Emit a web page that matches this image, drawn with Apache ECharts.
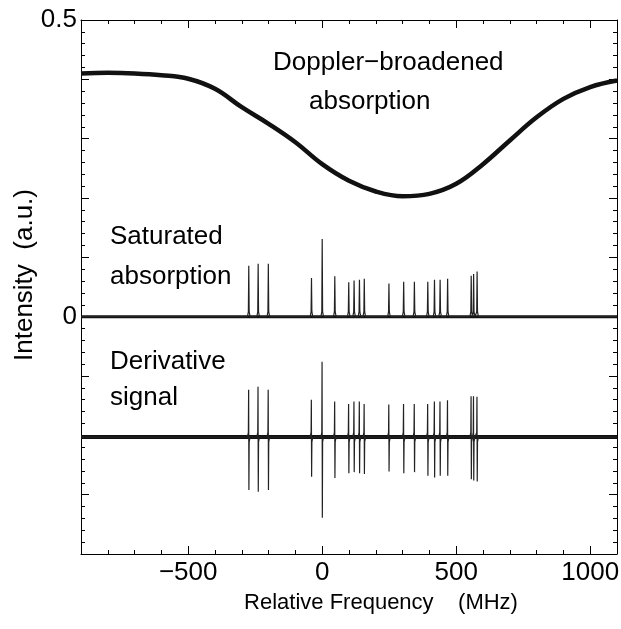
<!DOCTYPE html>
<html>
<head>
<meta charset="utf-8">
<script src="https://cdn.jsdelivr.net/npm/echarts@6/dist/echarts.min.js"></script>
<style>
html, body { margin: 0; padding: 0; background: #fff; }
#container { width: 621px; height: 629px; }
</style>
</head>
<body>
<div id="container"></div>
<script>
// Doppler-broadened absorption, read every 100 MHz
var dopplerFreq = [-900, -800, -700, -600, -500, -400, -300, -200, -100, 0, 100, 200, 300, 400, 500, 600, 700, 800, 900, 1000, 1100];
var dopplerVal = [0.410, 0.411, 0.410, 0.407, 0.401, 0.384, 0.353, 0.325, 0.294, 0.257, 0.229, 0.211, 0.203, 0.207, 0.224, 0.257, 0.297, 0.336, 0.367, 0.387, 0.398];

// hyperfine lines (MHz) and their heights
var lineFreq = [-274, -239, -201, -40, 0, 47, 99, 119, 139, 157, 249, 304, 344, 394, 419, 440, 468, 556, 565, 578];
var satHeight = [0.086, 0.089, 0.089, 0.065, 0.131, 0.068, 0.058, 0.061, 0.062, 0.064, 0.056, 0.059, 0.059, 0.059, 0.062, 0.062, 0.064, 0.069, 0.072, 0.076];
var derivUp = [0.080, 0.085, 0.080, 0.063, 0.127, 0.060, 0.056, 0.060, 0.060, 0.056, 0.055, 0.056, 0.056, 0.056, 0.060, 0.060, 0.062, 0.069, 0.069, 0.068];
var derivDown = [0.089, 0.092, 0.089, 0.067, 0.136, 0.069, 0.061, 0.059, 0.061, 0.062, 0.058, 0.061, 0.059, 0.065, 0.068, 0.065, 0.065, 0.071, 0.073, 0.075];

var satBase = 0;
var derivBase = -0.203;
var freqRange = [-900, 1100];

var xLabelTicks = [-500, 0, 500, 1000];

let chart = echarts.init(document.getElementById('container'));

var font = 'Liberation Sans';
var black = '#000';

var dopplerData = dopplerFreq.map((f, i) => [f, dopplerVal[i]]);

var satData = [[freqRange[0], satBase]];
var derivData = [[freqRange[0], derivBase]];
lineFreq.forEach((f, i) => {
    satData.push([f - 5, satBase]);
    satData.push([f - 1.5, satBase + 0.008]);
    satData.push([f, satBase + satHeight[i]]);
    satData.push([f + 1.5, satBase + 0.008]);
    satData.push([f + 5, satBase]);

    derivData.push([f - 5, derivBase]);
    derivData.push([f - 1.5, derivBase + 0.008]);
    derivData.push([f - 0.5, derivBase + derivUp[i]]);
    derivData.push([f + 0.5, derivBase - derivDown[i]]);
    derivData.push([f + 1.5, derivBase - 0.008]);
    derivData.push([f + 5, derivBase]);
});
satData.push([freqRange[1], satBase]);
derivData.push([freqRange[1], derivBase]);

function minus(v) {
    return String(v).replace('-', '\u2212');
}

var xBase = {
    type: 'value',
    min: freqRange[0],
    max: freqRange[1],
    interval: 100,
    splitLine: { show: false },
};
var yBase = {
    type: 'value',
    min: -0.4,
    max: 0.5,
    interval: 0.1,
    splitLine: { show: false },
    axisLine: { show: true, onZero: false, lineStyle: { color: black, width: 1 } },
    axisTick: { show: true, inside: true, length: 8, lineStyle: { color: black } },
    minorTick: { show: true, splitNumber: 5, length: 4, lineStyle: { color: black } },
};

function annot(x, y, text) {
    return {
        type: 'text',
        style: { x: x, y: y, text: text, fontFamily: font, fontSize: 26, fill: black, align: 'left', verticalAlign: 'middle' },
    };
}

var option = {
    animation: false,
    grid: {
        left: 81,
        right: 4,
        top: 20,
        bottom: 75,
        outerBoundsMode: 'none',
    },
    xAxis: [
        Object.assign({}, xBase, {
            position: 'bottom',
            axisLine: { show: true, onZero: false, lineStyle: { color: black, width: 1 } },
            axisTick: { show: true, inside: true, length: 4, lineStyle: { color: black } },
            axisLabel: { show: false },
            name: 'Relative Frequency    (MHz)',
            nameLocation: 'middle',
            nameGap: 38,
            nameMoveOverlap: false,
            nameTextStyle: { fontFamily: font, fontSize: 22, color: black, padding: [0, 0, 0, 64] },
        }),
        Object.assign({}, xBase, {
            position: 'bottom',
            axisLine: { show: false, onZero: false },
            axisTick: { show: true, inside: true, length: 8, customValues: xLabelTicks, lineStyle: { color: black } },
            axisLabel: {
                show: true,
                customValues: xLabelTicks,
                margin: 6,
                fontFamily: font,
                fontSize: 26,
                color: black,
                formatter: v => minus(v),
            },
        }),
        Object.assign({}, xBase, {
            position: 'top',
            axisLine: { show: true, onZero: false, lineStyle: { color: black, width: 1 } },
            axisTick: { show: true, inside: true, length: 4, lineStyle: { color: black } },
            axisLabel: { show: false },
        }),
        Object.assign({}, xBase, {
            position: 'top',
            axisLine: { show: false, onZero: false },
            axisTick: { show: true, inside: true, length: 8, customValues: xLabelTicks, lineStyle: { color: black } },
            axisLabel: { show: false },
        }),
    ],
    yAxis: [
        Object.assign({}, yBase, {
            position: 'left',
            axisLabel: {
                show: true,
                margin: 4,
                fontFamily: font,
                fontSize: 26,
                color: black,
                formatter: v => {
                    if (Math.abs(v) < 1e-9) return '0';
                    if (Math.abs(v - 0.5) < 1e-9) return '0.5';
                    return '';
                },
            },
            name: 'Intensity  (a.u.)',
            nameLocation: 'middle',
            nameGap: 43,
            nameMoveOverlap: false,
            nameTextStyle: { fontFamily: font, fontSize: 26, color: black, padding: [0, 0, 0, 24] },
        }),
        Object.assign({}, yBase, {
            position: 'right',
            axisLabel: { show: false },
        }),
    ],
    graphic: [
        annot(273, 63, 'Doppler\u2212broadened'),
        annot(309, 102, 'absorption'),
        annot(110, 237, 'Saturated'),
        annot(110, 277, 'absorption'),
        annot(110, 362, 'Derivative'),
        annot(110, 398, 'signal'),
    ],
    series: [
        {
            name: 'Doppler-broadened absorption',
            type: 'line',
            data: dopplerData,
            smooth: 0.4,
            symbol: 'none',
            lineStyle: { color: '#111', width: 4.5 },
        },
        {
            name: 'saturated baseline',
            type: 'line',
            data: [[freqRange[0], satBase], [freqRange[1], satBase]],
            symbol: 'none',
            lineStyle: { color: '#111', width: 3 },
        },
        {
            name: 'Saturated absorption',
            type: 'line',
            data: satData,
            symbol: 'none',
            lineStyle: { color: '#222', width: 1.2 },
        },
        {
            name: 'derivative baseline',
            type: 'line',
            data: [[freqRange[0], derivBase], [freqRange[1], derivBase]],
            symbol: 'none',
            lineStyle: { color: '#111', width: 4 },
        },
        {
            name: 'Derivative signal',
            type: 'line',
            data: derivData,
            symbol: 'none',
            lineStyle: { color: '#222', width: 1.2 },
        },
    ],
};
chart.setOption(option);
</script>
</body>
</html>
